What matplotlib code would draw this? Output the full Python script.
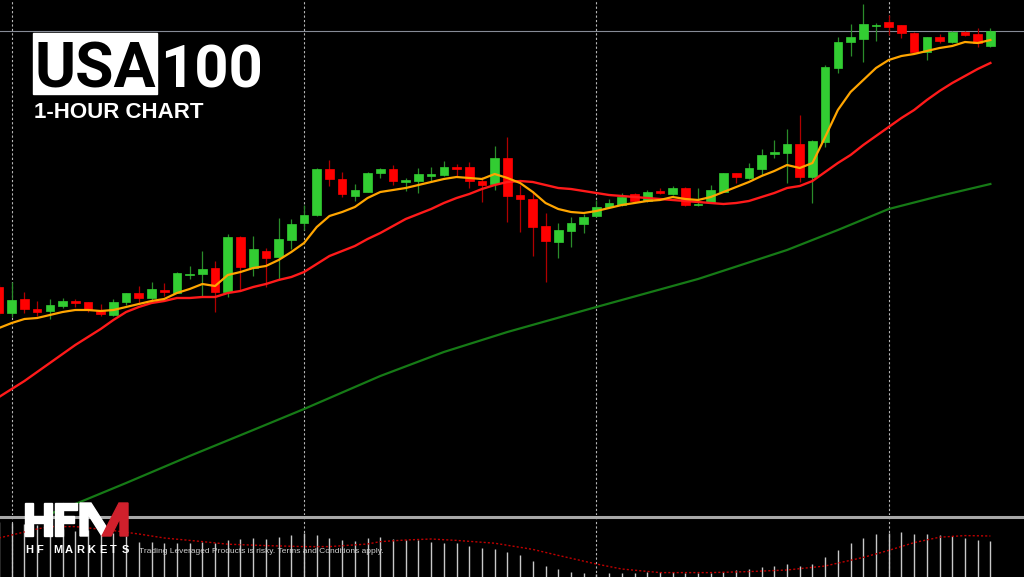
import matplotlib
matplotlib.use("Agg")
import matplotlib.pyplot as plt
from matplotlib.patches import Rectangle, Polygon
from matplotlib.lines import Line2D

plt.rcParams['font.family'] = ['Liberation Sans', 'DejaVu Sans']

# USA100 hourly candles
opens = [21213, 21187, 21201, 21191, 21189, 21194, 21199, 21198, 21189, 21185,
         21198, 21207, 21202, 21210, 21207, 21225, 21226, 21232, 21208, 21263,
         21232, 21249, 21243, 21260, 21277, 21285, 21331, 21321, 21304, 21308,
         21327, 21331, 21318.5, 21319, 21324, 21325, 21333, 21333, 21319, 21316,
         21342, 21305, 21301, 21274, 21258, 21269, 21276, 21284, 21293, 21295,
         21306, 21299, 21309, 21306, 21312, 21295, 21298, 21308, 21327, 21322,
         21331, 21346, 21347, 21356, 21323, 21358, 21432, 21458, 21461, 21474.5,
         21478, 21475, 21467, 21448, 21463, 21458, 21468, 21466, 21454]
highs = [21216, 21218, 21208, 21199, 21201, 21202, 21201, 21198, 21196, 21201,
         21207, 21214, 21218, 21217, 21228, 21234, 21249, 21239, 21266, 21264,
         21264, 21252, 21282, 21281, 21295, 21332, 21340, 21328, 21316, 21328,
         21332, 21335, 21322, 21332, 21333, 21339, 21336, 21338, 21323, 21354,
         21363, 21315, 21309, 21287, 21277, 21283, 21286, 21300, 21301, 21307,
         21307, 21310, 21312, 21314, 21313, 21312, 21315, 21327, 21327, 21337,
         21351, 21360, 21371, 21385, 21360, 21435, 21463, 21476, 21496, 21477,
         21485, 21475, 21468, 21463, 21466, 21469, 21469, 21472, 21472]
lows = [21185, 21183, 21187, 21184, 21181, 21192, 21193, 21188, 21184, 21184,
        21195, 21197, 21200, 21204, 21207, 21221, 21203, 21188, 21203, 21210,
        21224, 21213, 21220, 21251, 21270, 21284, 21314, 21303, 21299, 21308,
        21322, 21315, 21309, 21307, 21318, 21324, 21324, 21312, 21298, 21310,
        21278, 21268, 21244, 21218, 21242, 21253, 21267, 21283, 21293, 21294,
        21298, 21298, 21306, 21305, 21294, 21294, 21297, 21308, 21317, 21321,
        21325, 21342, 21317, 21318, 21297, 21353, 21427, 21444, 21438, 21459,
        21465, 21462, 21448, 21440, 21457, 21457, 21464, 21453, 21453]
closes = [21187, 21200, 21191, 21188, 21195, 21199, 21197, 21190, 21186, 21198,
          21207, 21202, 21211, 21208, 21227, 21226, 21231, 21208, 21263, 21233,
          21251, 21242, 21261, 21276, 21285, 21331, 21321, 21306, 21310, 21327,
          21331, 21319, 21320, 21326, 21326, 21333, 21331, 21319, 21315, 21342,
          21304, 21301, 21273, 21259, 21270, 21277, 21283, 21293, 21297, 21303,
          21299, 21308, 21307, 21312, 21295, 21296, 21310, 21327, 21323, 21332,
          21345, 21348, 21356, 21323, 21359, 21433, 21458, 21463, 21476, 21475.5,
          21473, 21467, 21448, 21463, 21459, 21468, 21465, 21457, 21469]

# moving averages
fast_ma = [21172, 21177, 21181, 21182, 21185, 21188, 21190, 21190, 21189, 21190,
           21193, 21196, 21199, 21201, 21207, 21211, 21216, 21214, 21225, 21228,
           21232, 21234, 21240, 21248, 21257, 21273, 21284, 21288, 21293, 21302,
           21308, 21310, 21312, 21315, 21318, 21321, 21323, 21322, 21321, 21326,
           21322, 21317, 21308, 21297, 21291, 21288, 21287, 21289, 21292, 21295,
           21297, 21299, 21300, 21303, 21301, 21300, 21303, 21308, 21313, 21318,
           21324, 21329, 21335, 21332, 21337, 21363, 21390, 21408, 21420, 21432,
           21440, 21444, 21446, 21449, 21452, 21454, 21458, 21457, 21460]
mid_ma = [21103, 21111, 21119, 21128, 21137, 21146, 21155, 21163, 21171, 21180,
          21188, 21193, 21197, 21199, 21202, 21202, 21203, 21203, 21207, 21209,
          21213, 21216, 21220, 21223, 21228, 21236, 21244, 21249, 21254, 21261,
          21267, 21274, 21281, 21286, 21291, 21297, 21302, 21306, 21311, 21315,
          21318, 21319, 21318, 21315, 21312, 21311, 21309, 21307, 21305, 21304,
          21303, 21302, 21301, 21300, 21299, 21298, 21297, 21296, 21297, 21299,
          21303, 21307, 21312, 21314, 21319, 21328, 21337, 21345, 21355, 21364,
          21373, 21382, 21390, 21400, 21409, 21417, 21424, 21431, 21437]
slow_idx = [4, 6, 10, 15, 20, 24, 30, 35, 40, 47, 55, 62, 66, 70, 74, 78]
slow_ma = [20986, 20996, 21017, 21044, 21070, 21091, 21124, 21148, 21168,
           21193, 21221, 21250, 21270, 21291, 21304, 21316]

# MACD sub-window
macd_hist = [34, 33.5, 33, 32.5, 31.5, 30.5, 29.5, 30, 29.5, 28.5,
             27, 24.2, 24.2, 23.4, 23.7, 23.4, 24.2, 23.4, 25, 25.4,
             25.9, 25.4, 26.4, 27.5, 28.4, 27.5, 26.2, 25, 24.7, 25.9,
             26.7, 25.5, 25, 25, 24.2, 23.7, 23.4, 22.2, 20.9, 20.5,
             19.2, 17.5, 14.5, 12.2, 10.4, 9.2, 8.4, 8, 8.4, 8.7,
             8.4, 9.2, 8.9, 9.2, 8.7, 8.4, 8.7, 9.2, 10, 10.4,
             11.7, 12.2, 13, 12.2, 13, 16.7, 20, 23.4, 25.9, 27.9,
             28.7, 28.9, 28, 27.9, 27.5, 27, 26.2, 25, 24.5]
sig_idx = [0, 3, 4, 6, 9, 11, 13, 16, 18, 21, 24, 26, 29, 30, 32, 34, 36, 39,
           42, 44, 47, 49, 52, 56, 59, 62, 65, 68, 70, 72, 74, 76, 78]
signal = [26, 30.5, 31.7, 31.7, 29.7, 28, 26, 24.2, 22.9, 22.2, 21.7, 21.7, 23,
          24.2, 25, 25.5, 24.8, 23.4, 20.3, 17.3, 13, 10.5, 8.7, 8.7, 9.2, 10,
          12, 16.3, 19.8, 23.7, 26.4, 27.2, 27]

grid_idx = [1, 24, 47, 70]

W, H = 1024, 577
fig = plt.figure(figsize=(W / 100, H / 100), dpi=100, facecolor='black')

ax = fig.add_axes([0, 62 / H, 1, 515 / H], facecolor='black')
sub = fig.add_axes([0, 0, 1, 58 / H], facecolor='black')
xl = (1 / 12.71, 1025 / 12.71)

for a in (ax, sub):
    a.set_xlim(*xl)
    a.axis('off')
    for g in grid_idx:
        a.axvline(g, color='#b8b8b8', lw=0.8, ls=(0, (2, 2)), zorder=1)

ax.set_ylim(20985, 21500)
sub.set_ylim(6.5, 35.5)

# candles
for i in range(len(opens)):
    o, h, l, c = opens[i], highs[i], lows[i], closes[i]
    up = c >= o
    body = '#32cd32' if up else '#ff0000'
    wick = '#2a8c2a' if up else '#b00000'
    ax.vlines(i, l, h, color=wick, lw=0.9, zorder=2)
    ax.bar(i, max(abs(c - o), 0.6), bottom=min(o, c), width=0.68,
           color=body, edgecolor=body, lw=0.5, zorder=3)

ax.plot(slow_idx, slow_ma, color='#167a16', lw=1.6, zorder=4)
ax.plot(range(len(mid_ma)), mid_ma, color='#ff1a1a', lw=1.7, zorder=4)
ax.plot(range(len(fast_ma)), fast_ma, color='#ffa500', lw=1.6, zorder=5)
ax.axhline(closes[-1], color='#868b96', lw=0.8, zorder=1)

# MACD histogram + signal
sub.vlines(range(len(macd_hist)), 0, macd_hist, color='#c8c8c8', lw=1.0, zorder=2)
sub.plot(sig_idx, signal, color='#c00000', lw=1.0, ls=(0, (1.5, 1.5)), zorder=3)

# separator between windows
fig.add_artist(Line2D([0, 1], [1 - 516.5 / H] * 2, color='#a8a8a8', lw=2.2))

# overlay for title and logo
ov = fig.add_axes([0, 0, 1, 1], zorder=10)
ov.set_xlim(0, W)
ov.set_ylim(H, 0)
ov.axis('off')
ov.patch.set_alpha(0)

ov.add_patch(Rectangle((33, 33), 124, 61, color='white'))
ov.text(34, 88, 'USA', color='black', fontsize=45, fontweight='bold',
        family=['Roboto', 'DejaVu Sans'], va='baseline')
ov.text(160, 88, '100', color='white', fontsize=43, fontweight='bold',
        family=['Roboto', 'DejaVu Sans'], va='baseline')
ov.text(34, 118, '1-HOUR CHART', color='white', fontsize=16, fontweight='bold',
        va='baseline')

# HFM logo
for r in [(25, 503, 8, 33), (44, 503, 8, 33), (33, 516, 11, 7),
          (55, 503, 8, 33), (63, 503, 14, 7), (63, 516, 11, 7)]:
    ov.add_patch(Rectangle((r[0], r[1]), r[2], r[3], color='white'))
ov.add_patch(Polygon([(80, 536), (80, 503), (91, 503), (107, 528), (102, 536),
                      (88, 514), (88, 536)], color='white'))
ov.add_patch(Polygon([(102, 536), (119, 503), (128, 503), (128, 536), (120, 536),
                      (120, 518), (111, 536)], color='#d0202c'))

for ch, x in zip('HFMARKETS', [25, 36.7, 53.3, 64.7, 76.1, 87.5, 98.9, 110.3, 121.7]):
    ov.text(x, 553, ch, color='white', fontsize=8, fontweight='bold', va='baseline')
ov.text(139, 553, 'Trading Leveraged Products is risky. Terms and Conditions apply.',
        color='#d0d0d0', fontsize=6, va='baseline')

fig.savefig('out.png', dpi=100, facecolor='black')
